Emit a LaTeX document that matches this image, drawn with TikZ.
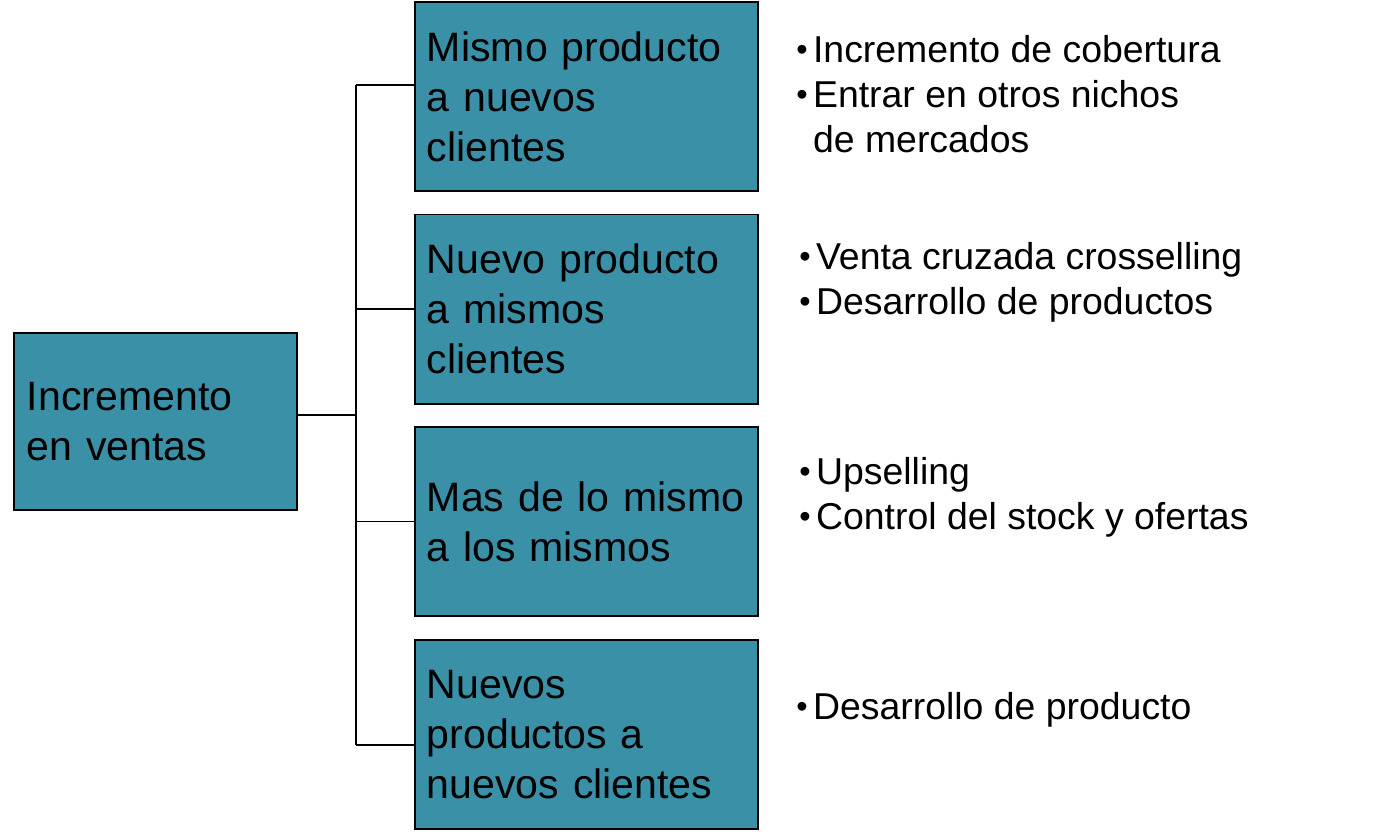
\documentclass[tikz,border=0pt]{standalone}
\usepackage{fontspec}
\setmainfont{Liberation Sans}
\usepackage{tikz}
\usetikzlibrary{positioning,calc}
\definecolor{boxteal}{RGB}{58,145,167}
\newcommand{\bul}{\makebox[0.42cm][l]{\raisebox{0.06em}{\fontsize{23}{23}\selectfont\textbullet}}}

\begin{document}
\begin{tikzpicture}[x=0.025cm,y=-0.025cm,
 bx/.style={draw,line width=1.4pt,fill=boxteal,align=left,text width=7.975cm,minimum height=4.725cm,inner xsep=0.3cm,inner ysep=0.3cm,font=\fontsize{29.2}{35.6}\selectfont},
 rt/.style={draw,line width=1.4pt,fill=boxteal,align=left,text width=6.425cm,minimum height=4.425cm,inner sep=0.33cm,font=\fontsize{29.2}{35.6}\selectfont},
 bl/.style={align=left,inner sep=0pt,anchor=west,font=\fontsize{26.6}{32}\selectfont},
 ln/.style={line width=1.4pt}]
\useasboundingbox (0,0) rectangle (1373,831);
% root
\node[rt] (inc) at (155.5,421.5) {Incremento\\en ventas};
% four strategies
\node[bx] (m1) at (586.5,96.5) {Mismo producto\\a nuevos\\clientes};
\node[bx] (m2) at (586.5,309) {Nuevo producto\\a mismos\\clientes};
\node[bx] (m3) at (586.5,521.5) {Mas de lo mismo\\a los mismos};
\node[bx] (m4) at (586.5,734.5) {Nuevos\\productos a\\nuevos clientes};
% bullets
\node[bl] (b1) at (796,94) {\bul Incremento de cobertura\\\bul Entrar en otros nichos\\\hspace*{0.42cm}de mercados};
\node[bl] (b2) at (799,282.5) {\bul Venta cruzada crosselling\\\bul Desarrollo de productos};
\node[bl] (b3) at (799,497.5) {\bul Upselling\\\bul Control del stock y ofertas};
\node[bl] (b4) at (796,710) {\bul Desarrollo de producto};
% tree lines
\coordinate (j0) at (356,415);
\coordinate (jt) at (356,85);
\coordinate (jb) at (356,745);
\draw[ln] (j0 -| inc.east) -- (j0);
\draw[ln] (jt) -- (jb);
\draw[ln] (jt) -- (jt -| m1.west);
\draw[ln] (m2.west -| jt) -- (m2.west);
\draw[ln] (m3.west -| jt) -- (m3.west);
\draw[ln] (jb) -- (jb -| m4.west);
\end{tikzpicture}
\end{document}
